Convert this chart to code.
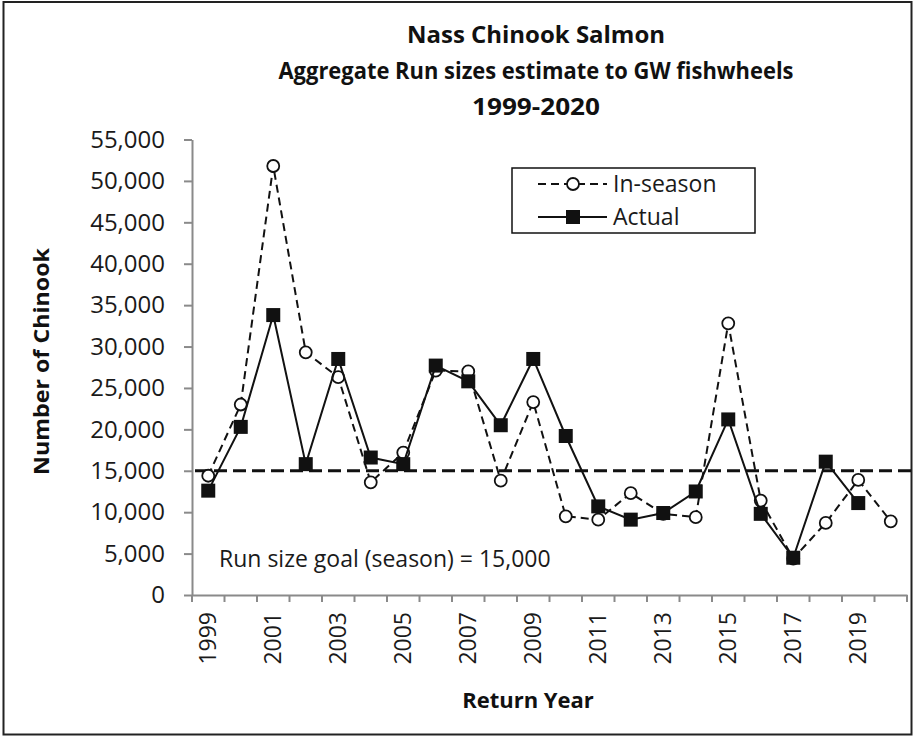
<!DOCTYPE html>
<html>
<head>
<meta charset="utf-8">
<script src="https://cdn.jsdelivr.net/npm/d3@7"></script>
<style>
  body { margin: 0; background: #fff; }
  svg { display: block; font-family: 'Open Sans', sans-serif; }
</style>
</head>
<body>
<div id="chart"></div>
<script>
const years = [1999, 2000, 2001, 2002, 2003, 2004, 2005, 2006, 2007, 2008, 2009,
  2010, 2011, 2012, 2013, 2014, 2015, 2016, 2017, 2018, 2019, 2020];
const inSeason = [14400, 23000, 51800, 29300, 26300, 13600, 17200, 27100, 27000, 13800, 23300,
  9500, 9100, 12300, 9800, 9400, 32800, 11400, 4400, 8700, 13900, 8900];
const actual = [12600, 20300, 33800, 15800, 28500, 16600, 15800, 27700, 25800, 20500, 28500,
  19200, 10700, 9100, 9900, 12500, 21200, 9800, 4500, 16100, 11100, null];
const goal = 15000;
const yTicks = [0, 5000, 10000, 15000, 20000, 25000, 30000, 35000, 40000, 45000, 50000, 55000];
const titleLines = ['Nass Chinook Salmon', 'Aggregate Run sizes estimate to GW fishwheels', '1999-2020'];

const width = 915;
const height = 736;
const margin = { top: 139.5, right: 8, bottom: 141, left: 192 };
const axisColor = '#8a8a8a';

const svg = d3
  .select('#chart')
  .append('svg')
  .attr('width', width)
  .attr('height', height);

// outer frame
svg
  .append('rect')
  .attr('x', 3.5)
  .attr('y', 2)
  .attr('width', 908)
  .attr('height', 732.5)
  .attr('fill', 'none')
  .attr('stroke', '#222')
  .attr('stroke-width', 2);

const x = d3
  .scaleBand()
  .domain(years)
  .range([margin.left, width - margin.right])
  .padding(0);
const y = d3
  .scaleLinear()
  .domain([0, 55000])
  .range([height - margin.bottom, margin.top]);
const cx = (d) => x(d) + x.bandwidth() / 2;

// title
const titleWidths = [258, 515, 128];
svg
  .append('g')
  .selectAll('text')
  .data(titleLines)
  .enter()
  .append('text')
  .attr('x', 536)
  .attr('y', (d, i) => 43 + i * 36)
  .attr('text-anchor', 'middle')
  .attr('textLength', (d, i) => titleWidths[i])
  .attr('lengthAdjust', 'spacingAndGlyphs')
  .style('font-size', '24px')
  .style('font-weight', 'bold')
  .style('fill', '#111')
  .text((d) => d);

// y axis
const yAxis = svg
  .append('g')
  .attr('transform', 'translate(' + margin.left + ',0)')
  .call(
    d3
      .axisLeft(y)
      .tickValues(yTicks)
      .tickFormat(d3.format(','))
      .tickSize(8)
      .tickSizeOuter(0)
      .tickPadding(19)
  );
yAxis.select('.domain').attr('stroke', axisColor).attr('stroke-width', 2);
yAxis.selectAll('.tick line').attr('stroke', axisColor).attr('stroke-width', 2);
yAxis
  .selectAll('.tick text')
  .style('font-size', '24px')
  .style('fill', '#1a1a1a')
  .style('font-family', "'Open Sans', sans-serif");

// x axis
const xAxis = svg
  .append('g')
  .attr('transform', 'translate(0,' + y(0) + ')')
  .call(
    d3
      .axisBottom(x)
      .tickSize(0)
      .tickSizeOuter(0)
      .tickFormat((d) => (d % 2 === 1 ? d : ''))
  );
xAxis.select('.domain').attr('stroke', axisColor).attr('stroke-width', 2);
xAxis
  .selectAll('.tick text')
  .attr('transform', 'rotate(-90)')
  .attr('x', -17)
  .attr('y', 0)
  .attr('dy', '.35em')
  .style('text-anchor', 'end')
  .style('font-size', '23px')
  .style('fill', '#1a1a1a')
  .style('font-family', "'Open Sans', sans-serif");

// tick marks between categories
svg
  .append('g')
  .selectAll('line')
  .data(years.map((d) => x(d)).concat([x.range()[1]]))
  .enter()
  .append('line')
  .attr('x1', (d) => d)
  .attr('x2', (d) => d)
  .attr('y1', y(0))
  .attr('y2', y(0) + 7)
  .attr('stroke', axisColor)
  .attr('stroke-width', 2);

// axis titles
svg
  .append('text')
  .attr('transform', 'translate(' + 49 + ',' + 361.5 + ') rotate(-90)')
  .attr('text-anchor', 'middle')
  .attr('textLength', 227)
  .attr('lengthAdjust', 'spacingAndGlyphs')
  .style('font-size', '22px')
  .style('font-weight', 'bold')
  .style('fill', '#111')
  .text('Number of Chinook');

svg
  .append('text')
  .attr('x', 528)
  .attr('y', 708)
  .attr('text-anchor', 'middle')
  .style('font-size', '22px')
  .style('font-weight', 'bold')
  .style('fill', '#111')
  .text('Return Year');

// goal line
svg
  .append('line')
  .attr('x1', x.range()[0] + 3)
  .attr('x2', 911)
  .attr('y1', y(goal))
  .attr('y2', y(goal))
  .attr('stroke', '#111')
  .attr('stroke-width', 3)
  .attr('stroke-dasharray', '13,6');

svg
  .append('text')
  .attr('x', 219)
  .attr('y', 567)
  .style('font-size', '23px')
  .style('fill', '#1a1a1a')
  .text('Run size goal (season) = ' + d3.format(',')(goal));

// in-season series
const inSeasonData = years.map((d, i) => ({ year: d, value: inSeason[i] }));
const actualData = years
  .map((d, i) => ({ year: d, value: actual[i] }))
  .filter((d) => d.value !== null);

const line = d3
  .line()
  .x((d) => cx(d.year))
  .y((d) => y(d.value));

svg
  .append('path')
  .datum(inSeasonData)
  .attr('fill', 'none')
  .attr('stroke', '#111')
  .attr('stroke-width', 2)
  .attr('stroke-dasharray', '8,5')
  .attr('d', line);

svg
  .append('g')
  .selectAll('circle')
  .data(inSeasonData)
  .enter()
  .append('circle')
  .attr('cx', (d) => cx(d.year))
  .attr('cy', (d) => y(d.value))
  .attr('r', 6)
  .attr('fill', '#fff')
  .attr('stroke', '#111')
  .attr('stroke-width', 1.8);

// actual series
svg
  .append('path')
  .datum(actualData)
  .attr('fill', 'none')
  .attr('stroke', '#111')
  .attr('stroke-width', 2)
  .attr('d', line);

svg
  .append('g')
  .selectAll('rect')
  .data(actualData)
  .enter()
  .append('rect')
  .attr('x', (d) => cx(d.year) - 7)
  .attr('y', (d) => y(d.value) - 7)
  .attr('width', 14)
  .attr('height', 14)
  .attr('fill', '#111');

// legend
const legend = svg.append('g').attr('transform', 'translate(512,168)');
legend
  .append('rect')
  .attr('width', 243)
  .attr('height', 65)
  .attr('fill', '#fff')
  .attr('stroke', '#111')
  .attr('stroke-width', 1.5);

const legendItems = [
  { label: 'In-season', dash: '8,5', marker: 'circle' },
  { label: 'Actual', dash: null, marker: 'square' },
];

const item = legend
  .selectAll('.legend')
  .data(legendItems)
  .enter()
  .append('g')
  .attr('class', 'legend')
  .attr('transform', (d, i) => 'translate(0,' + (16 + i * 33) + ')');

item
  .append('line')
  .attr('x1', 26)
  .attr('x2', 95)
  .attr('stroke', '#111')
  .attr('stroke-width', 2)
  .attr('stroke-dasharray', (d) => d.dash);

item
  .filter((d) => d.marker === 'circle')
  .append('circle')
  .attr('cx', 61)
  .attr('r', 6)
  .attr('fill', '#fff')
  .attr('stroke', '#111')
  .attr('stroke-width', 1.8);

item
  .filter((d) => d.marker === 'square')
  .append('rect')
  .attr('x', 54)
  .attr('y', -7)
  .attr('width', 14)
  .attr('height', 14)
  .attr('fill', '#111');

item
  .append('text')
  .attr('x', 101)
  .attr('dy', '.35em')
  .style('font-size', '23px')
  .style('fill', '#1a1a1a')
  .text((d) => d.label);
</script>
</body>
</html>
